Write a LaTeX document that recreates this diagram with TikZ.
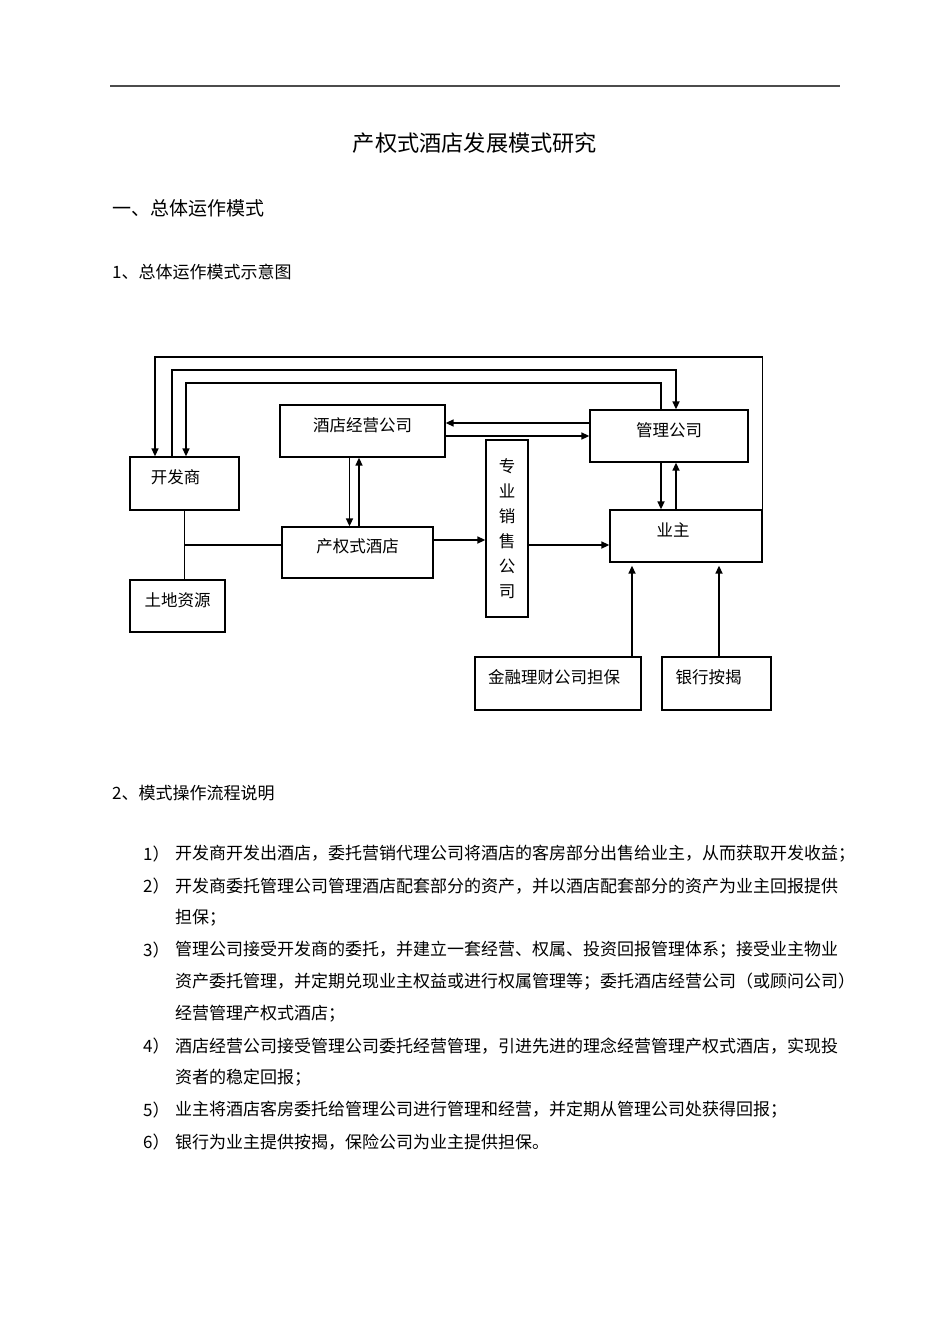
\documentclass[tikz,border=0pt]{standalone}
\usepackage{fontspec}
\setmainfont{Noto Sans CJK SC}
\usetikzlibrary{arrows.meta,calc}

\tikzset{
  box/.style={draw, line width=1.3pt, inner sep=0pt, font=\fontsize{16.5pt}{25pt}\selectfont},
  tbox/.style={box, text height=0.8em, text depth=0.8em},
  link/.style={line width=1.6pt, -{Triangle[length=8pt,width=7pt]}},
  wire/.style={line width=1.3pt},
  txt/.style={anchor=west, inner sep=0pt, font=\fontsize{17pt}{20pt}\selectfont},
}

\begin{document}
\begin{tikzpicture}[x=1pt, y=-1pt]
	\fill[white] (0,0) rectangle (950,1344);
	\useasboundingbox (0,0) rectangle (950,1344);
	\draw[line width=2.2pt, black!70] (110,86) -- (840,86);

	% headings
	\node[inner sep=0pt, font=\fontsize{22.2pt}{26pt}\selectfont] (title) at (475,143) {产权式酒店发展模式研究};
	\node[txt, font=\fontsize{19pt}{22pt}\selectfont] (h1) at (112,208) {一、总体运作模式};
	\node[txt] (h2) at (112,272) {1、总体运作模式示意图};
	\node[txt] (h3) at (112,793) {2、模式操作流程说明};

	% boxes
	\node[tbox, minimum width=109, minimum height=53] (dev) at (184.5,483.5) {开发商\hspace*{18pt}};
	\node[tbox, minimum width=95, minimum height=52] (land) at (177.5,606) {土地资源};
	\node[tbox, minimum width=165, minimum height=52] (ops) at (362.5,431) {酒店经营公司};
	\node[tbox, minimum width=151, minimum height=51] (hotel) at (357.5,552.5) {产权式酒店};
	\node[box, minimum width=42, minimum height=177] (sales) at (507,528.5)
		{\raisebox{5pt}{\parbox{17pt}{\centering 专\\业\\销\\售\\公\\司}}};
	\node[tbox, minimum width=158, minimum height=52] (mgmt) at (669,436) {管理公司};
	\node[tbox, minimum width=152, minimum height=52] (owner) at (686,536) {业主\hspace*{26pt}};
	\node[tbox, minimum width=166, minimum height=53] (fin) at (558,683.5) {金融理财公司担保\hspace*{8pt}};
	\node[tbox, minimum width=109, minimum height=53] (bank) at (716.5,683.5) {银行按揭\hspace*{16pt}};

	% loops over the top
	\coordinate (loopA) at (155,357);
	\coordinate (loopB) at (172,370);
	\coordinate (loopC) at (186,383);
	\draw[link] (owner.north east) |- (loopA) -- (loopA |- dev.north);
	\draw[link] (loopB |- dev.north) -- (loopB) -| ([xshift=7pt]mgmt.north);
	\draw[link] ([xshift=-8pt]mgmt.north) |- (loopC) -- (loopC |- dev.north);

	\draw[link] (mgmt.west) ++(0,-13) -- ([yshift=8pt]ops.east);
	\draw[link] (ops.east) ++(0,5) -- (mgmt.west);
	\draw[link] ([xshift=-13pt]ops.south) -- ([xshift=-8pt]hotel.north);
	\draw[link] ([xshift=1.5pt]hotel.north) -- ([xshift=-3.5pt]ops.south);
	\draw[link] ([yshift=12.5pt]hotel.east) -- ([yshift=-11.5pt]sales.west);
	\draw[link] ([yshift=-16.5pt]sales.east) -- ([yshift=-9pt]owner.west);
	\draw[link] ([xshift=-8pt]mgmt.south) -- ([xshift=-25pt]owner.north);
	\draw[link] ([xshift=-10pt]owner.north) -- ([xshift=7pt]mgmt.south);
	\draw[link] ([xshift=74pt]fin.north) -- ([xshift=-54pt,yshift=-3pt]owner.south);
	\draw[link] ([xshift=2.5pt]bank.north) -- ([xshift=33pt,yshift=-3pt]owner.south);

	% land and hotel tie
	\coordinate (jn) at ($(dev.south)!0.5!(dev.south |- land.north)$);
	\draw[wire] (dev.south) -- (dev.south |- land.north);
	\draw[wire] (jn) -- (jn -| hotel.west);

	% list
	\foreach \n/\y in {1/854, 2/886, 3/950, 4/1046, 5/1110, 6/1142}
		\node[txt] (num\n) at (143,\y) {\n）};
	\foreach \t [count=\i] in {
		{开发商开发出酒店，委托营销代理公司将酒店的客房部分出售给业主，从而获取开发收益；},
		{开发商委托管理公司管理酒店配套部分的资产，并以酒店配套部分的资产为业主回报提供},
		{担保；},
		{管理公司接受开发商的委托，并建立一套经营、权属、投资回报管理体系；接受业主物业},
		{资产委托管理，并定期兑现业主权益或进行权属管理等；委托酒店经营公司（或顾问公司）},
		{经营管理产权式酒店；},
		{酒店经营公司接受管理公司委托经营管理，引进先进的理念经营管理产权式酒店，实现投},
		{资者的稳定回报；},
		{业主将酒店客房委托给管理公司进行管理和经营，并定期从管理公司处获得回报；},
		{银行为业主提供按揭，保险公司为业主提供担保。}}
		\node[txt] (line\i) at (175,822+32*\i) {\t};
\end{tikzpicture}
\end{document}
